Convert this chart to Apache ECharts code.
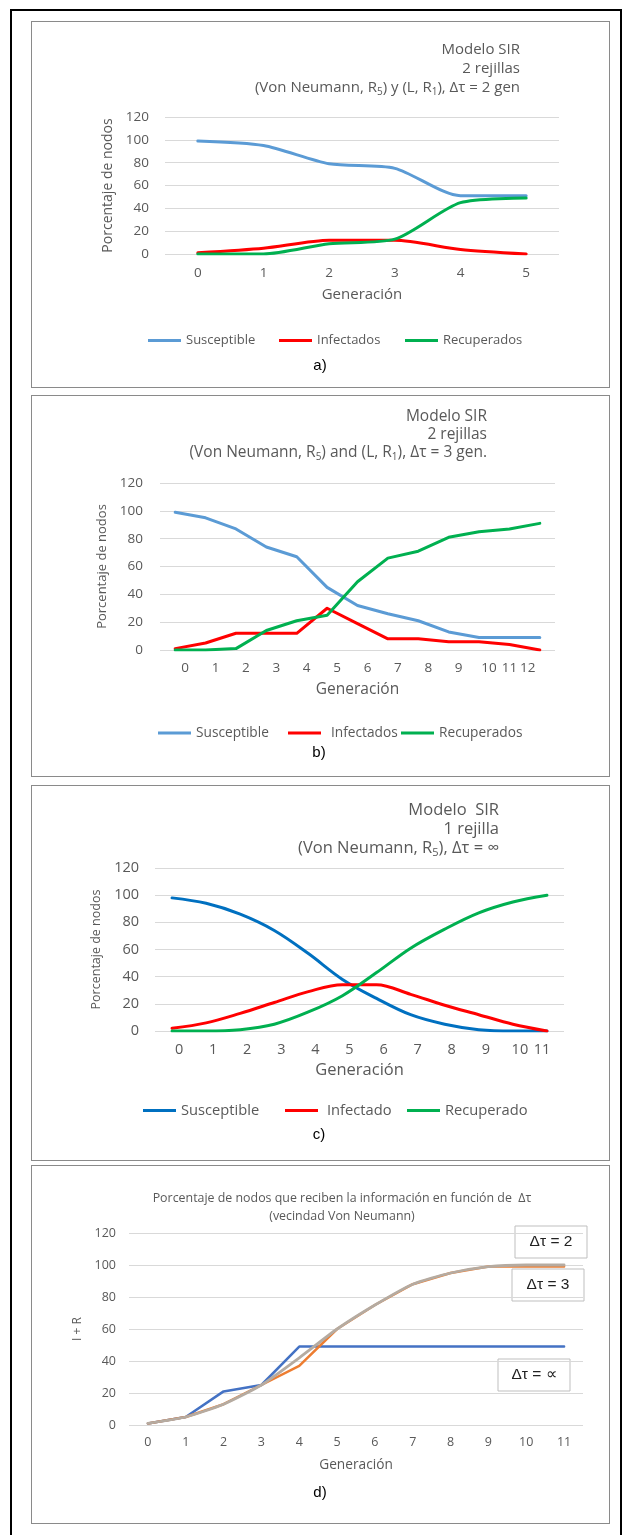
<!DOCTYPE html>
<html>
<head>
<meta charset="utf-8">
<script src="https://cdn.jsdelivr.net/npm/echarts/dist/echarts.min.js"></script>
<style>
  html, body { margin: 0; padding: 0; background: #fff; }
  body { width: 629px; height: 1535px; position: relative; overflow: hidden; }
  #outer { position: absolute; left: 10px; top: 9px; width: 612px; height: 1560px;
           border: 2px solid #000; box-sizing: border-box; }
  .frame { position: absolute; left: 31px; width: 579px; box-sizing: border-box;
           border: 1.5px solid #8a8a8a; }
  .chart { position: absolute; left: 0; width: 629px; }
</style>
</head>
<body>
<div id="outer"></div>
<div class="frame" style="top:21px;height:367px"></div>
<div class="frame" style="top:395px;height:382px"></div>
<div class="frame" style="top:785px;height:376px"></div>
<div class="frame" style="top:1165px;height:359px"></div>
<div class="chart" id="ca" style="top:21px;height:367px"></div>
<div class="chart" id="cb" style="top:395px;height:382px"></div>
<div class="chart" id="cc" style="top:785px;height:376px"></div>
<div class="chart" id="cd" style="top:1165px;height:359px"></div>
<script>
// ---- a) SIR, two grids, Δτ = 2 generations ----
const genA = ['0', '1', '2', '3', '4', '5'];
const susA = [99, 95, 79, 75, 51, 51];
const infA = [1, 5, 12, 12, 4, 0];
const recA = [0, 0, 9, 13, 45, 49];

// ---- b) SIR, two grids, Δτ = 3 generations ----
const genB = ['0', '1', '2', '3', '4', '5', '6', '7', '8', '9', '10', '11', '12'];
const susB = [99, 95, 87, 74, 67, 45, 32, 26, 21, 13, 9, 9, 9];
const infB = [1, 5, 12, 12, 12, 30, 19, 8, 8, 6, 6, 4, 0];
const recB = [0, 0, 1, 14, 21, 25, 49, 66, 71, 81, 85, 87, 91];

// ---- c) SIR, one grid, Δτ = ∞ ----
const genC = ['0', '1', '2', '3', '4', '5', '6', '7', '8', '9', '10', '11'];
const susC = [98, 94, 86, 74, 57, 38, 24, 12, 5, 1, 0, 0];
const infC = [2, 6, 13, 21, 29, 34, 34, 27, 19, 12, 5, 0];
const recC = [0, 0, 1, 5, 14, 26, 43, 61, 75, 87, 95, 100];

// ---- d) I + R for each Δτ ----
const genD = ['0', '1', '2', '3', '4', '5', '6', '7', '8', '9', '10', '11'];
const irBlue = [1, 5, 21, 25, 49, 49, 49, 49, 49, 49, 49, 49];
const irOrange = [1, 5, 13, 25, 37, 60, 75, 88, 95, 99, 99, 99];
const irGray = [1, 5, 13, 25, 42, 60, 75, 88, 95, 99, 100, 100];

// shared y scale (percent)
const yMin = 0, yMax = 120, yStep = 20;

const FONT = 'Open Sans';
const GREY = '#595959';
const GRID_LINE = '#d9d9d9';

function yAxis(name, nameGap, nameFs, tickFs, margin) {
  return {
    type: 'value', min: yMin, max: yMax, interval: yStep,
    name: name, nameLocation: 'middle', nameGap: nameGap,
    nameTextStyle: { fontFamily: FONT, fontSize: nameFs, color: GREY },
    axisLabel: { fontFamily: FONT, fontSize: tickFs, color: GREY, margin: margin },
    axisLine: { show: false }, axisTick: { show: false },
    splitLine: { lineStyle: { color: GRID_LINE, width: 1 } }
  };
}

function xAxis(cats, nameFs, tickFs, margin, nameGap, labelExtra) {
  const label = { interval: 0, hideOverlap: false, fontFamily: FONT, fontSize: tickFs, color: GREY, margin: margin };
  Object.assign(label, labelExtra || {});
  return {
    type: 'category', data: cats, boundaryGap: true,
    name: 'Generación', nameLocation: 'middle', nameGap: nameGap,
    nameTextStyle: { fontFamily: FONT, fontSize: nameFs, color: GREY },
    axisLabel: label,
    axisLine: { show: false }, axisTick: { show: false }, splitLine: { show: false }
  };
}

// shifted tick labels: a rich style with side padding moves the text off the tick centre
function shiftedRich(fs, rightShift, leftShift) {
  return {
    r: { padding: [0, 0, 0, rightShift * 2], fontFamily: FONT, fontSize: fs, color: GREY },
    c: { fontFamily: FONT, fontSize: fs, color: GREY },
    l: { padding: [0, leftShift * 2, 0, 0], fontFamily: FONT, fontSize: fs, color: GREY }
  };
}

function line(name, data, color, width, smooth) {
  return {
    type: 'line', name: name, data: data, symbol: 'none', smooth: smooth || false,
    lineStyle: { color: color, width: width, cap: 'round', join: 'round' },
    itemStyle: { color: color }, emphasis: { disabled: true }, animation: false
  };
}

function legendItem(name, left, top, fs, textPad) {
  return {
    left: left, top: top, icon: 'rect', itemWidth: 33, itemHeight: 3,
    selectedMode: false,
    textStyle: { fontFamily: FONT, fontSize: fs, color: GREY, padding: textPad || 0 },
    data: [name]
  };
}

function titleBlock(text, x, y, fs, lh, align) {
  const richStyle = {
    n: { fontFamily: FONT, fontSize: fs, lineHeight: lh, fill: GREY, color: GREY },
    s: { fontFamily: FONT, fontSize: Math.round(fs * 0.66), lineHeight: lh, fill: GREY, color: GREY, verticalAlign: 'bottom' }
  };
  return {
    type: 'text', x: x, y: y, silent: true,
    style: {
      text: text, fill: GREY, fontFamily: FONT, fontSize: fs, lineHeight: lh,
      align: align, textAlign: align, verticalAlign: 'top', textVerticalAlign: 'top',
      rich: richStyle
    }
  };
}

function panelTag(text, x, y) {
  return {
    type: 'text', x: x, y: y, silent: true,
    style: { text: text, fill: '#000', fontFamily: 'Liberation Sans', fontSize: 15,
             align: 'center', textAlign: 'center', verticalAlign: 'middle', textVerticalAlign: 'middle' }
  };
}

// ---------- a ----------
const chartA = echarts.init(document.getElementById('ca'), null, { renderer: 'canvas' });
chartA.setOption({
  animation: false,
  grid: { left: 165, top: 96, width: 394, height: 137 },
  xAxis: xAxis(genA, 15, 13.5, 12, 33),
  yAxis: yAxis('Porcentaje de nodos', 41, 14, 13.5, 16),
  legend: [
    legendItem('Susceptible', 143, 308, 13),
    legendItem('Infectados', 274, 308, 13),
    legendItem('Recuperados', 400, 308, 13)
  ],
  series: [
    line('Susceptible', susA, '#5b9bd5', 3, 0.25),
    line('Infectados', infA, '#ff0000', 3, 0.25),
    line('Recuperados', recA, '#00b050', 3, 0.25)
  ],
  graphic: [
    titleBlock('{n|Modelo SIR}\n{n|2 rejillas}\n{n|(Von Neumann, R}{s|5}{n|) y (L, R}{s|1}{n|), Δτ = 2 gen}', 520, 19, 15, 19, 'right'),
    panelTag('a)', 320, 345)
  ]
});

// ---------- b ----------
const chartB = echarts.init(document.getElementById('cb'), null, { renderer: 'canvas' });
chartB.setOption({
  animation: false,
  grid: { left: 160, top: 88, width: 395, height: 167 },
  xAxis: xAxis(genB, 15.5, 13.5, 11, 32, {
    formatter: function (v, i) { return i <= 10 ? '{r|' + v + '}' : (i === 11 ? '{c|' + v + '}' : '{l|' + v + '}'); },
    rich: shiftedRich(13.5, 10, 12)
  }),
  yAxis: yAxis('Porcentaje de nodos', 42, 13, 13.5, 17),
  legend: [
    legendItem('Susceptible', 153, 326, 13.7),
    legendItem('Infectados', 283, 326, 13.7, [0, 0, 0, 5]),
    legendItem('Recuperados', 396, 326, 13.7)
  ],
  series: [
    line('Susceptible', susB, '#5b9bd5', 3),
    line('Infectados', infB, '#ff0000', 3),
    line('Recuperados', recB, '#00b050', 3)
  ],
  graphic: [
    titleBlock('{n|Modelo SIR}\n{n|2 rejillas}\n{n|(Von Neumann, R}{s|5}{n|) and (L, R}{s|1}{n|), Δτ = 3 gen.}', 487, 13, 15.5, 18, 'right'),
    panelTag('b)', 319, 358)
  ]
});

// ---------- c ----------
const chartC = echarts.init(document.getElementById('cc'), null, { renderer: 'canvas' });
chartC.setOption({
  animation: false,
  grid: { left: 155, top: 83, width: 409, height: 163 },
  xAxis: xAxis(genC, 16.5, 14.5, 11, 31, {
    formatter: function (v, i) { return i <= 10 ? '{r|' + v + '}' : '{l|' + v + '}'; },
    rich: shiftedRich(14.5, 7, 5)
  }),
  yAxis: yAxis('Porcentaje de nodos', 47, 12.5, 14.5, 16),
  legend: [
    legendItem('Susceptible', 138, 313, 14.7),
    legendItem('Infectado', 280, 313, 14.7, [0, 0, 0, 4]),
    legendItem('Recuperado', 402, 313, 14.7)
  ],
  series: [
    line('Susceptible', susC, '#0070c0', 3, 0.35),
    line('Infectado', infC, '#ff0000', 3, 0.35),
    line('Recuperado', recC, '#00b050', 3, 0.35)
  ],
  graphic: [
    titleBlock('{n|Modelo  SIR}\n{n|1 rejilla}\n{n|(Von Neumann, R}{s|5}{n|), Δτ = ∞}', 499, 16, 16.5, 19, 'right'),
    panelTag('c)', 319, 350)
  ]
});

// ---------- d ----------
function noteBox(text, x, y, w, h) {
  return {
    type: 'group', x: x, y: y, silent: true, z: 100,
    children: [
      { type: 'rect', shape: { x: 0, y: 0, width: w, height: h },
        style: { fill: '#fff', stroke: '#bfbfbf', lineWidth: 1 } },
      { type: 'text', x: w / 2, y: h / 2,
        style: { text: text, fill: '#222', fontFamily: 'Liberation Sans', fontSize: 15.5,
                 align: 'center', textAlign: 'center', verticalAlign: 'middle', textVerticalAlign: 'middle' } }
    ]
  };
}

const chartD = echarts.init(document.getElementById('cd'), null, { renderer: 'canvas' });
chartD.setOption({
  animation: false,
  grid: { left: 129, top: 68, width: 454, height: 192 },
  xAxis: xAxis(genD, 13.7, 12.5, 11, 33),
  yAxis: yAxis('I + R', 40, 12, 12.5, 13),
  series: [
    line('azul', irBlue, '#4472c4', 2.5),
    line('naranja', irOrange, '#ed7d31', 2.5),
    line('gris', irGray, '#b5aba1', 2.8, 0.2)
  ],
  graphic: [
    titleBlock('Porcentaje de nodos que reciben la información en función de  Δτ\n(vecindad Von Neumann)', 342, 24, 12.4, 18, 'center'),
    noteBox('Δτ = 2', 515, 61, 72, 32),
    noteBox('Δτ = 3', 512, 104, 72, 32),
    noteBox('Δτ = ∝', 498, 194, 72, 32),
    panelTag('d)', 320, 328)
  ]
});
</script>
</body>
</html>
